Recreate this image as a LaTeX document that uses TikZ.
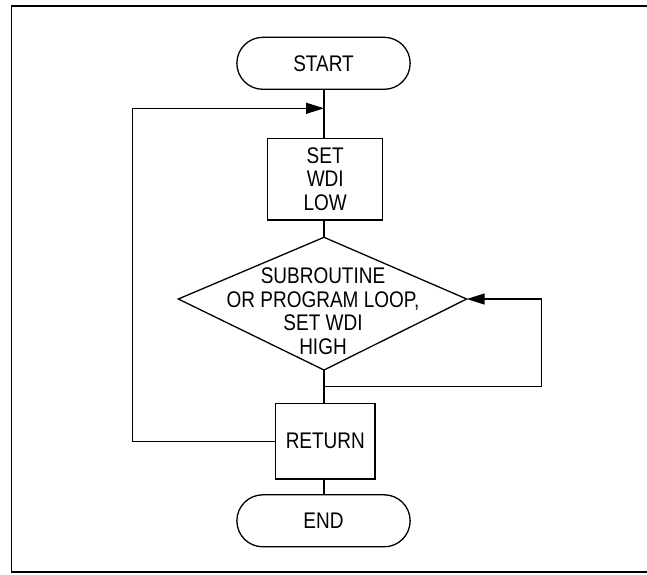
\documentclass[tikz,border=0pt]{standalone}
\usepackage{fontspec}
\setmainfont{Liberation Sans}[FakeStretch=0.84]
\usetikzlibrary{shapes.misc,arrows.meta}
\begin{document}
\begin{tikzpicture}[x=1pt,y=-1pt,
  every node/.style={font=\fontsize{22.6}{23.5}\selectfont, inner sep=0pt, align=center},
  lw/.style={line width=1.3pt},
  term/.style={lw, draw, rounded rectangle, minimum width=173.3pt, minimum height=52pt},
  proc/.style={lw, draw, rectangle},
  conn/.style={lw},
  arr/.style={lw, -{Triangle[length=18pt,width=11pt]}}
]
\useasboundingbox (0,0) rectangle (647,574);
\draw[line width=1.7pt] (648,5.7) -- (11.5,5.7) -- (11.5,572) -- (648,572);

\node[term] (start) at (323.5,63.3) {START};
\node[proc, minimum width=115pt, minimum height=81.7pt] (set) at (325.2,179.2) {SET\\WDI\\LOW};
\coordinate (dT) at (324,237.3);
\coordinate (dR) at (466.7,299);
\coordinate (dB) at (324,370);
\coordinate (dL) at (178.3,299);
\draw[lw] (dT) -- (dR) -- (dB) -- (dL) -- cycle;
\node (dec) at (323,311) {SUBROUTINE\\OR PROGRAM LOOP,\\SET WDI\\HIGH};
\node[proc, minimum width=99.3pt, minimum height=75.7pt] (ret) at (325.3,441.2) {RETURN};
\node[term] (end) at (323.5,520.8) {END};

\coordinate (J1) at (324,386.7);
\coordinate (J2) at (324,108.3);
\coordinate (rx) at (541.7,299);
\coordinate (lx) at (132.7,0);

\draw[conn] (start.south -| J2) -- (set.north -| J2);
\draw[conn] (set.south -| dT) -- (dT);
\draw[conn] (dB) -- (ret.north -| dB);
\draw[conn] (ret.south -| dB) -- (end.north -| dB);
\draw[arr] (J1) -| (rx) -- (dR);
\draw[arr] (ret.west) -- (ret.west -| lx) |- (J2);
\end{tikzpicture}
\end{document}
